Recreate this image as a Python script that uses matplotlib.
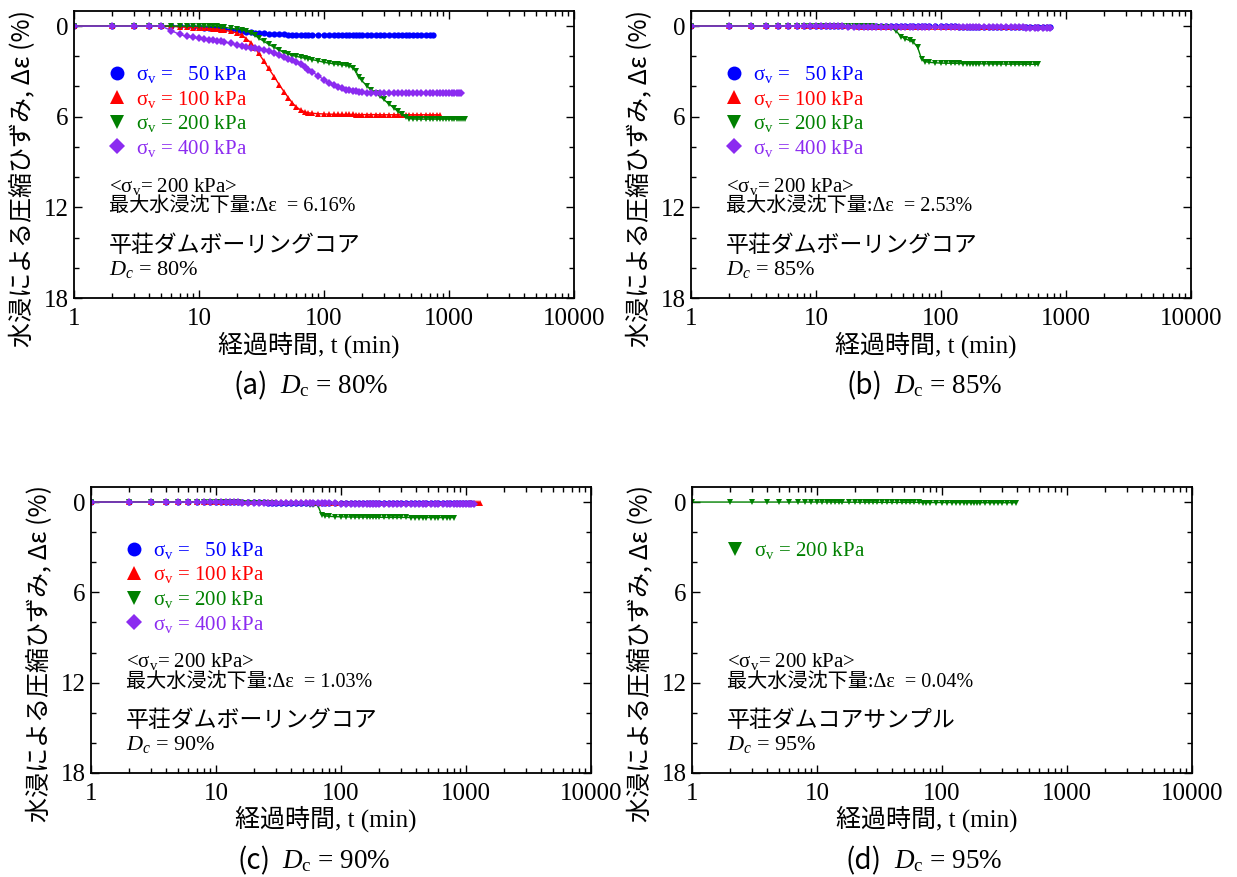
import matplotlib
matplotlib.use('Agg')
import matplotlib.pyplot as plt
from matplotlib.lines import Line2D

plt.rcParams['font.family'] = ['Liberation Serif', 'Noto Sans CJK JP']
plt.rcParams['mathtext.fontset'] = 'custom'
plt.rcParams['mathtext.rm'] = 'Liberation Serif'
plt.rcParams['mathtext.it'] = 'Liberation Serif:italic'

# elapsed time (min) shared by every series; each series uses the first len(values) entries
T = [1, 2, 3, 4, 5, 6, 7, 8, 9, 10,
     11, 12, 13, 14, 15, 16, 18, 20, 22, 24,
     26, 28, 30, 33, 36, 40, 44, 48, 52, 56,
     60, 65, 70, 75, 80, 90, 100, 110, 120, 130,
     140, 150, 160, 170, 180, 190, 200, 220, 240, 260,
     280, 300, 330, 360, 390, 420, 450, 480, 520, 560,
     600, 650, 700, 750, 800, 850, 900, 950, 1000, 1050,
     1100, 1150, 1200, 1250, 1300, 1350]

# (a) Dc = 80%
a_50 = [0, 0, 0, 0, 0, 0, 0, 0.02, 0.05, 0.08,
        0.1, 0.12, 0.14, 0.16, 0.18, 0.2, 0.24, 0.28, 0.32, 0.36,
        0.4, 0.43, 0.46, 0.49, 0.51, 0.53, 0.54, 0.55, 0.56, 0.56,
        0.57, 0.57, 0.58, 0.58, 0.58, 0.59, 0.59, 0.59, 0.59, 0.6,
        0.6, 0.6, 0.6, 0.6, 0.6, 0.6, 0.6, 0.6, 0.6, 0.6,
        0.6, 0.6, 0.6, 0.6, 0.6, 0.6, 0.6, 0.6, 0.6, 0.6,
        0.6, 0.6, 0.6, 0.6]
a_100 = [0, 0, 0, 0, 0, 0.02, 0.05, 0.08, 0.1, 0.12,
         0.14, 0.16, 0.18, 0.2, 0.23, 0.28, 0.35, 0.45, 0.6, 0.85,
         1.1, 1.45, 1.8, 2.3, 2.8, 3.35, 3.9, 4.35, 4.75, 5.1,
         5.35, 5.55, 5.68, 5.74, 5.77, 5.8, 5.82, 5.83, 5.84, 5.84,
         5.85, 5.85, 5.85, 5.85, 5.86, 5.86, 5.86, 5.86, 5.86, 5.86,
         5.87, 5.87, 5.87, 5.87, 5.87, 5.87, 5.87, 5.87, 5.87, 5.87,
         5.87, 5.87, 5.87, 5.87, 5.87, 5.87]
a_200 = [0, 0, 0, 0, 0, 0, 0, 0, 0, 0,
         0, 0, 0, 0.02, 0.05, 0.08, 0.15, 0.2, 0.25, 0.33,
         0.45, 0.6, 0.8, 1.0, 1.2, 1.4, 1.6, 1.75, 1.85, 1.95,
         2.0, 2.07, 2.12, 2.17, 2.22, 2.3, 2.4, 2.45, 2.5, 2.53,
         2.56, 2.6, 2.66, 2.75, 3.0, 3.35, 3.6, 3.95, 4.25, 4.45,
         4.65, 4.85, 5.15, 5.4, 5.65, 5.85, 6.02, 6.12, 6.15, 6.16,
         6.16, 6.16, 6.16, 6.16, 6.16, 6.16, 6.16, 6.16, 6.16, 6.16,
         6.16, 6.16, 6.16, 6.16, 6.16, 6.16]
a_400 = [0, 0, 0, 0, 0, 0.3, 0.55, 0.68, 0.75, 0.8,
         0.85, 0.9, 0.93, 0.97, 1.0, 1.05, 1.15, 1.22, 1.3, 1.36,
         1.42, 1.48, 1.53, 1.6, 1.68, 1.78, 1.9, 2.02, 2.15, 2.26,
         2.38, 2.52, 2.7, 2.88, 3.02, 3.3, 3.55, 3.75, 3.9, 4.02,
         4.12, 4.2, 4.26, 4.3, 4.33, 4.36, 4.38, 4.4, 4.42, 4.43,
         4.44, 4.44, 4.44, 4.44, 4.44, 4.44, 4.44, 4.44, 4.44, 4.44,
         4.45, 4.45, 4.45, 4.45, 4.45, 4.45, 4.45, 4.45, 4.45, 4.45,
         4.45, 4.45, 4.45, 4.45]

# (b) Dc = 85%
b_50 = [0, 0, 0, 0, 0, 0, 0, 0, 0, 0.01,
        0.01, 0.01, 0.01, 0.01, 0.01, 0.01, 0.01, 0.01, 0.01, 0.01,
        0.02, 0.02, 0.02, 0.02, 0.02, 0.02, 0.02, 0.02, 0.02, 0.02,
        0.02, 0.02, 0.02, 0.02, 0.02, 0.02, 0.02, 0.02, 0.02, 0.02,
        0.03, 0.03, 0.03, 0.03, 0.03, 0.03, 0.03, 0.03, 0.03, 0.03,
        0.03, 0.03, 0.03, 0.03, 0.03, 0.03, 0.03, 0.03, 0.03, 0.03,
        0.03, 0.03, 0.03, 0.03]
b_100 = [0, 0, 0, 0, 0, 0, 0, 0.01, 0.01, 0.01,
         0.01, 0.01, 0.02, 0.02, 0.02, 0.02, 0.02, 0.02, 0.03, 0.03,
         0.03, 0.03, 0.03, 0.03, 0.03, 0.04, 0.04, 0.04, 0.04, 0.04,
         0.04, 0.04, 0.04, 0.04, 0.04, 0.05, 0.05, 0.05, 0.05, 0.05,
         0.05, 0.05, 0.05, 0.05, 0.05, 0.05, 0.05, 0.05, 0.05, 0.05,
         0.05, 0.05, 0.05, 0.05, 0.05, 0.05, 0.05, 0.05, 0.05, 0.05,
         0.05, 0.05, 0.05]
b_200 = [0, 0, 0, 0, 0, 0, 0, 0, 0, 0,
         0, 0, 0, 0, 0, 0, 0.01, 0.01, 0.01, 0.02,
         0.02, 0.02, 0.03, 0.03, 0.04, 0.1, 0.35, 0.7, 0.85, 0.95,
         1.05, 1.4, 2.2, 2.35, 2.4, 2.43, 2.45, 2.46, 2.46, 2.47,
         2.47, 2.48, 2.48, 2.48, 2.49, 2.49, 2.5, 2.5, 2.5, 2.51,
         2.51, 2.51, 2.52, 2.52, 2.52, 2.52, 2.53, 2.53, 2.53, 2.53,
         2.53]
b_400 = [0, 0, 0, 0, 0, 0, 0, 0.01, 0.01, 0.01,
         0.01, 0.02, 0.02, 0.02, 0.02, 0.02, 0.03, 0.03, 0.03, 0.03,
         0.03, 0.04, 0.04, 0.04, 0.04, 0.04, 0.05, 0.05, 0.05, 0.05,
         0.05, 0.05, 0.06, 0.06, 0.06, 0.06, 0.06, 0.07, 0.07, 0.07,
         0.07, 0.07, 0.07, 0.08, 0.08, 0.08, 0.08, 0.08, 0.08, 0.08,
         0.09, 0.09, 0.09, 0.09, 0.09, 0.09, 0.09, 0.1, 0.1, 0.1,
         0.1, 0.1, 0.1, 0.1]

# (c) Dc = 90%
c_50 = [0, 0, 0, 0, 0, 0, 0, 0, 0.01, 0.01,
        0.01, 0.01, 0.01, 0.01, 0.02, 0.02, 0.02, 0.02, 0.02, 0.02,
        0.03, 0.03, 0.03, 0.03, 0.03, 0.03, 0.03, 0.04, 0.04, 0.04,
        0.04, 0.04, 0.04, 0.04, 0.04, 0.05, 0.05, 0.05, 0.05, 0.05,
        0.05, 0.05, 0.05, 0.05, 0.05, 0.05, 0.05, 0.05, 0.05, 0.05,
        0.05, 0.05, 0.05, 0.05, 0.05, 0.05, 0.05, 0.05, 0.05, 0.05,
        0.05, 0.05, 0.05, 0.05, 0.05, 0.05, 0.05, 0.05, 0.05, 0.05,
        0.05]
c_100 = [0, 0, 0, 0, 0, 0, 0, 0, 0, 0,
         0.01, 0.01, 0.01, 0.01, 0.01, 0.01, 0.01, 0.01, 0.01, 0.01,
         0.02, 0.02, 0.02, 0.02, 0.02, 0.02, 0.02, 0.02, 0.02, 0.02,
         0.03, 0.03, 0.03, 0.03, 0.03, 0.03, 0.03, 0.03, 0.03, 0.03,
         0.03, 0.04, 0.04, 0.04, 0.04, 0.04, 0.04, 0.04, 0.04, 0.04,
         0.04, 0.04, 0.04, 0.04, 0.04, 0.05, 0.05, 0.05, 0.05, 0.05,
         0.05, 0.05, 0.05, 0.05, 0.05, 0.05, 0.05, 0.05, 0.05, 0.05,
         0.05, 0.05, 0.05, 0.05, 0.05]
c_200 = [0, 0, 0, 0, 0, 0, 0, 0, 0, 0,
         0, 0.01, 0.01, 0.02, 0.02, 0.03, 0.04, 0.05, 0.06, 0.07,
         0.08, 0.09, 0.1, 0.11, 0.12, 0.13, 0.14, 0.15, 0.16, 0.17,
         0.18, 0.2, 0.85, 0.92, 0.95, 0.97, 0.98, 0.99, 0.99, 1.0,
         1.0, 1.0, 1.0, 1.01, 1.01, 1.01, 1.01, 1.02, 1.02, 1.02,
         1.02, 1.02, 1.02, 1.03, 1.03, 1.03, 1.03, 1.03, 1.03, 1.03,
         1.03, 1.03, 1.03, 1.03, 1.03]
c_400 = [0, 0, 0, 0, 0, 0, 0, 0.01, 0.01, 0.01,
         0.01, 0.02, 0.02, 0.02, 0.02, 0.03, 0.03, 0.03, 0.04, 0.04,
         0.04, 0.05, 0.05, 0.05, 0.06, 0.06, 0.06, 0.07, 0.07, 0.07,
         0.08, 0.08, 0.08, 0.09, 0.09, 0.09, 0.1, 0.1, 0.1, 0.1,
         0.11, 0.11, 0.11, 0.11, 0.12, 0.12, 0.12, 0.12, 0.12, 0.13,
         0.13, 0.13, 0.13, 0.13, 0.14, 0.14, 0.14, 0.14, 0.14, 0.14,
         0.15, 0.15, 0.15, 0.15, 0.15, 0.15, 0.15, 0.15, 0.15, 0.15,
         0.15, 0.15]

# (d) Dc = 95%
d_200 = [0, 0, 0, 0, 0, 0, 0, 0, 0, 0,
         0, 0, 0, 0.01, 0.01, 0.01, 0.01, 0.01, 0.01, 0.01,
         0.01, 0.01, 0.02, 0.02, 0.02, 0.02, 0.02, 0.02, 0.02, 0.02,
         0.02, 0.02, 0.03, 0.03, 0.03, 0.03, 0.03, 0.03, 0.03, 0.03,
         0.03, 0.03, 0.04, 0.04, 0.04, 0.04, 0.04, 0.04, 0.04, 0.04,
         0.04, 0.04, 0.04, 0.04, 0.04]

pressures = [50, 100, 200, 400]
colors = {50: '#0000FF', 100: '#FF0000', 200: '#008000', 400: '#8B2BF0'}
markers = {50: 'o', 100: '^', 200: 'v', 400: 'D'}
msizes = {50: 4.5, 100: 4.5, 200: 4.5, 400: 3.8}
leg_labels = {50: 'σ$_\\mathrm{v}$ =   50 kPa', 100: 'σ$_\\mathrm{v}$ = 100 kPa',
              200: 'σ$_\\mathrm{v}$ = 200 kPa', 400: 'σ$_\\mathrm{v}$ = 400 kPa'}

panels = [
    dict(rect=[0.0598, 0.6602, 0.4042, 0.3273], series={50: a_50, 100: a_100, 200: a_200, 400: a_400},
         max_txt='6.16', name='平荘ダムボーリングコア', dc='80', tag='(a)', cap_x=274, cap_y=386),
    dict(rect=[0.5586, 0.6602, 0.4042, 0.3273], series={50: b_50, 100: b_100, 200: b_200, 400: b_400},
         max_txt='2.53', name='平荘ダムボーリングコア', dc='85', tag='(b)', cap_x=888, cap_y=386),
    dict(rect=[0.0736, 0.1186, 0.4042, 0.3261], series={50: c_50, 100: c_100, 200: c_200, 400: c_400},
         max_txt='1.03', name='平荘ダムボーリングコア', dc='90', tag='(c)', cap_x=276, cap_y=861),
    dict(rect=[0.5594, 0.1186, 0.4042, 0.3261], series={200: d_200},
         max_txt='0.04', name='平荘ダムコアサンプル', dc='95', tag='(d)', cap_x=888, cap_y=861),
]

W, H = 1237, 877
fig = plt.figure(figsize=(12.37, 8.77), dpi=100)

for p in panels:
    ax = fig.add_axes(p['rect'])
    handles = []
    for s in pressures:
        if s not in p['series']:
            continue
        v = p['series'][s]
        ax.plot(T[:len(v)], v, color=colors[s], marker=markers[s], ms=msizes[s],
                lw=1.0, mew=0)
        handles.append(Line2D([], [], ls='none', marker=markers[s], color=colors[s],
                              ms=10 if s != 400 else 8.5, mew=0, label=leg_labels[s]))

    ax.set_xscale('log')
    ax.set_xlim(1, 10000)
    ax.set_ylim(18, -1.0)
    ax.set_xticks([1, 10, 100, 1000, 10000])
    ax.set_xticklabels(['1', '10', '100', '1000', '10000'])
    ax.set_yticks([0, 6, 12, 18])
    ax.set_yticks([2, 4, 8, 10, 14, 16], minor=True)
    ax.tick_params(which='both', direction='in', top=True, right=True, labelsize=18)
    ax.tick_params(which='major', length=6, width=1.0)
    ax.tick_params(which='minor', length=3.5, width=1.0)
    ax.tick_params(axis='x', pad=7)
    ax.tick_params(axis='y', pad=4)
    for sp in ax.spines.values():
        sp.set_linewidth(1.3)

    ax.set_xlabel('経過時間, t (min)', fontsize=18)
    ax.xaxis.set_label_coords(0.47, -0.115)
    ax.set_ylabel('水浸による圧縮ひずみ, Δε (%)', fontsize=18, family=['Noto Sans CJK JP'])
    ax.yaxis.set_label_coords(-0.076, 0.418)

    leg = ax.legend(handles=handles, loc='upper left', bbox_to_anchor=(0.068, 0.815),
                    frameon=False, fontsize=15, borderpad=0, borderaxespad=0,
                    handlelength=0.9, handletextpad=0.45, labelspacing=0.17)
    for h, t in zip(handles, leg.get_texts()):
        t.set_color(h.get_color())

    ax.text(0.07, 0.39, '<σ$_\\mathrm{v}$= 200 kPa>', transform=ax.transAxes,
            fontsize=15, va='center', ha='left')
    ax.text(0.07, 0.318, '最大水浸沈下量:Δε  = ' + p['max_txt'] + '%', transform=ax.transAxes,
            fontsize=14.5, va='center', ha='left')
    ax.text(0.07, 0.18, p['name'], transform=ax.transAxes,
            fontsize=16.5, va='center', ha='left')
    ax.text(0.07, 0.10, '$D_c$ = ' + p['dc'] + '%', transform=ax.transAxes,
            fontsize=16, va='center', ha='left')

    # caption under each panel
    fig.text((p['cap_x'] - 6) / W, 1 - p['cap_y'] / H, p['tag'], fontsize=20,
             family=['Noto Sans CJK JP'], ha='right', va='center')
    fig.text((p['cap_x'] + 6) / W, 1 - p['cap_y'] / H, '$D_\\mathrm{c}$ = ' + p['dc'] + '%',
             fontsize=19.5, ha='left', va='center')

fig.savefig('out.png', dpi=100)
